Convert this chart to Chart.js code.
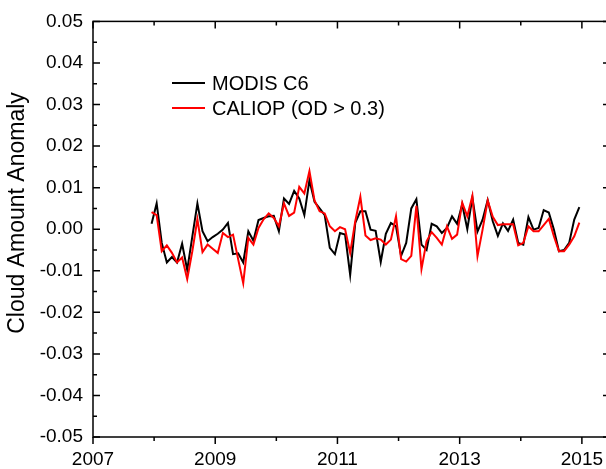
<!DOCTYPE html>
<html>
<head>
<meta charset="utf-8">
<script src="https://cdn.jsdelivr.net/npm/chart.js@4"></script>
<style>
  html, body { margin: 0; padding: 0; background: #fff; overflow: hidden; }
  #wrap { width: 606px; height: 469px; overflow: hidden; }
</style>
</head>
<body>
<div id="wrap">
  <canvas id="myChart" width="620" height="469"></canvas>
</div>
<script>
// monthly anomalies, Dec 2007 .. Dec 2014
const startYear = 2007 + 11.5 / 12
const modis = [
  0.0013, 0.0062, -0.0033, -0.0080, -0.0067, -0.0080, -0.0035, -0.0098, -0.0018, 0.0062,
  -0.0005, -0.0029, -0.0019, -0.0011, -0.0001, 0.0015, -0.0060, -0.0058, -0.0080, -0.0005,
  -0.0028, 0.0022, 0.0027, 0.0031, 0.0032, -0.0005, 0.0074, 0.0061, 0.0092, 0.0074,
  0.0034, 0.0118, 0.0066, 0.0050, 0.0034, -0.0045, -0.0060, -0.0009, -0.0013, -0.0110,
  0.0015, 0.0043, 0.0043, -0.0001, -0.0004, -0.0079, -0.0011, 0.0015, 0.0007, -0.0064,
  -0.0033, 0.0050, 0.0072, -0.0037, -0.0050, 0.0013, 0.0007, -0.0009, 0.0003, 0.0031,
  0.0013, 0.0060, 0.0000, 0.0076, -0.0006, 0.0023, 0.0070, 0.0019, -0.0016, 0.0014,
  -0.0004, 0.0023, -0.0033, -0.0037, 0.0029, -0.0001, 0.0003, 0.0046, 0.0040, -0.0001,
  -0.0053, -0.0050, -0.0033, 0.0023, 0.0053
]
const caliop = [
  0.0041, 0.0034, -0.0053, -0.0039, -0.0057, -0.0080, -0.0068, -0.0120, -0.0053, 0.0024,
  -0.0055, -0.0037, -0.0047, -0.0057, -0.0009, -0.0019, -0.0013, -0.0072, -0.0130, -0.0021,
  -0.0037, 0.0003, 0.0024, 0.0038, 0.0027, 0.0007, 0.0062, 0.0032, 0.0040, 0.0102,
  0.0086, 0.0140, 0.0069, 0.0043, 0.0038, 0.0007, -0.0005, 0.0005, 0.0000, -0.0057,
  0.0019, 0.0078, -0.0015, -0.0026, -0.0022, -0.0025, -0.0037, -0.0025, 0.0031, -0.0072,
  -0.0078, -0.0064, 0.0056, -0.0096, -0.0029, -0.0007, -0.0021, -0.0037, 0.0007, -0.0023,
  -0.0013, 0.0064, 0.0031, 0.0080, -0.0065, -0.0001, 0.0069, 0.0030, 0.0010, 0.0012,
  0.0012, 0.0012, -0.0039, -0.0033, 0.0007, -0.0005, -0.0005, 0.0010, 0.0025, -0.0017,
  -0.0053, -0.0053, -0.0037, -0.0017, 0.0016
]
const xLabels = [2007, 2009, 2011, 2013, 2015]
const xMinor = [2007, 2008, 2009, 2010, 2011, 2012, 2013, 2014, 2015]
const yLabels = [-0.05, -0.04, -0.03, -0.02, -0.01, 0, 0.01, 0.02, 0.03, 0.04, 0.05]
const yMinor = [-0.045, -0.035, -0.025, -0.015, -0.005, 0.005, 0.015, 0.025, 0.035, 0.045]
const seriesNames = ['MODIS C6', 'CALIOP (OD > 0.3)']
const yTitle = 'Cloud Amount Anomaly'

const toPoints = arr => arr.map((v, i) => ({ x: startYear + i / 12, y: v }))
const FONT = '"Liberation Sans", Arial, sans-serif'

// frame + inward ticks, Origin style
const frameTicks = {
  id: 'frameTicks',
  afterDraw(chart) {
    const { ctx, chartArea: a, scales } = chart
    const xs = scales.x, ys = scales.y
    ctx.save()
    ctx.strokeStyle = '#000'
    ctx.lineWidth = 1.5
    ctx.strokeRect(a.left, a.top, a.right - a.left, a.bottom - a.top)
    ctx.beginPath()
    xMinor.forEach(v => {
      const px = xs.getPixelForValue(v)
      const len = xLabels.includes(v) ? 7 : 4
      ctx.moveTo(px, a.bottom); ctx.lineTo(px, a.bottom + len)
      ctx.moveTo(px, a.top); ctx.lineTo(px, a.top + len)
    })
    yLabels.concat(yMinor).forEach((v, i) => {
      const py = ys.getPixelForValue(v)
      const len = i < yLabels.length ? 7 : 4
      ctx.moveTo(a.left, py); ctx.lineTo(a.left + len, py)
      ctx.moveTo(a.right, py); ctx.lineTo(a.right - len, py)
    })
    ctx.stroke()

    // axis title, a bit above centre like the original
    ctx.translate(18, 213)
    ctx.rotate(-Math.PI / 2)
    ctx.font = '23px ' + FONT
    ctx.fillStyle = '#000'
    ctx.textAlign = 'center'
    ctx.textBaseline = 'middle'
    ctx.fillText(yTitle, 0, 0)
    ctx.restore()
  }
}

// legend inside the plot
const innerLegend = {
  id: 'innerLegend',
  afterDraw(chart) {
    const ctx = chart.ctx
    const rows = [[seriesNames[0], '#000000', 83], [seriesNames[1], '#ff0000', 108]]
    ctx.save()
    ctx.font = '20px ' + FONT
    ctx.textBaseline = 'middle'
    ctx.fillStyle = '#000'
    rows.forEach(r => {
      ctx.strokeStyle = r[1]
      ctx.lineWidth = 2
      ctx.beginPath()
      ctx.moveTo(172, r[2]); ctx.lineTo(205, r[2])
      ctx.stroke()
      ctx.fillText(r[0], 212, r[2] + 1)
    })
    ctx.restore()
  }
}

const ctx = document.getElementById('myChart').getContext('2d')
const myChart = new Chart(ctx, {
  type: 'line',
  data: {
    datasets: [{
      label: seriesNames[1],
      data: toPoints(caliop),
      borderColor: '#ff0000',
      borderWidth: 2,
      pointRadius: 0,
      order: 0
    }, {
      label: seriesNames[0],
      data: toPoints(modis),
      borderColor: '#000000',
      borderWidth: 2,
      pointRadius: 0,
      order: 1
    }]
  },
  options: {
    responsive: false,
    animation: false,
    devicePixelRatio: 1,
    layout: { padding: { left: 0, top: 16, right: 10, bottom: 0 } },
    plugins: { legend: { display: false }, tooltip: { enabled: false } },
    elements: { line: { tension: 0 } },
    scales: {
      x: {
        type: 'linear',
        min: 2007,
        max: 2015.46,
        afterFit: s => { s.height = 32 },
        afterBuildTicks: s => { s.ticks = xLabels.map(v => ({ value: v })) },
        grid: { display: false, drawTicks: false },
        border: { display: false },
        ticks: {
          padding: 11,
          color: '#000',
          font: { family: FONT, size: 19 },
          maxRotation: 0,
          autoSkip: false,
          callback: v => String(v)
        }
      },
      y: {
        min: -0.05,
        max: 0.05,
        afterFit: s => { s.width = 93 },
        afterBuildTicks: s => { s.ticks = yLabels.map(v => ({ value: v })) },
        grid: { display: false, drawTicks: false },
        border: { display: false },
        ticks: {
          padding: 10,
          color: '#000',
          font: { family: FONT, size: 19 },
          autoSkip: false,
          callback: v => v.toFixed(2)
        }
      }
    }
  },
  plugins: [frameTicks, innerLegend]
})
</script>
</body>
</html>
